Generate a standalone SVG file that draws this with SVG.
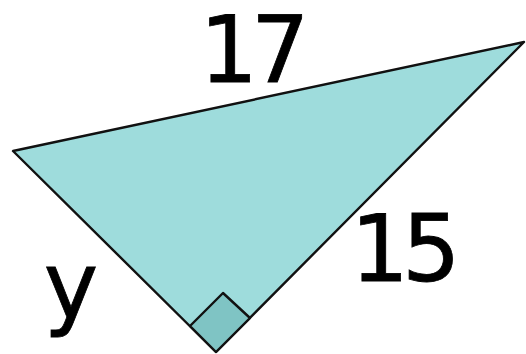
<svg xmlns="http://www.w3.org/2000/svg" width="526" height="354" viewBox="0 0 526 354">
<style>
.lbl{font-family:"DejaVu Sans",sans-serif;font-size:92px;fill:#000;stroke:#000;stroke-width:0.8;text-anchor:middle;letter-spacing:-7px}
.edge{stroke:#111;stroke-width:2.4;stroke-linejoin:round}
</style>
<rect width="526" height="354" fill="#fff"/>
<g id="triangle">
<polygon class="edge" points="13,151 524,42 216,352" fill="#9edcdc"/>
</g>
<g id="right-angle">
<polygon class="edge" points="216,352 190,326 223,293 250,318" fill="#7fc4c4"/>
</g>
<g id="labels">
<text class="lbl" x="251" y="82">17</text>
<text class="lbl" x="402" y="281">15</text>
<text class="lbl" x="71" y="318" style="letter-spacing:0">y</text>
</g>
</svg>
